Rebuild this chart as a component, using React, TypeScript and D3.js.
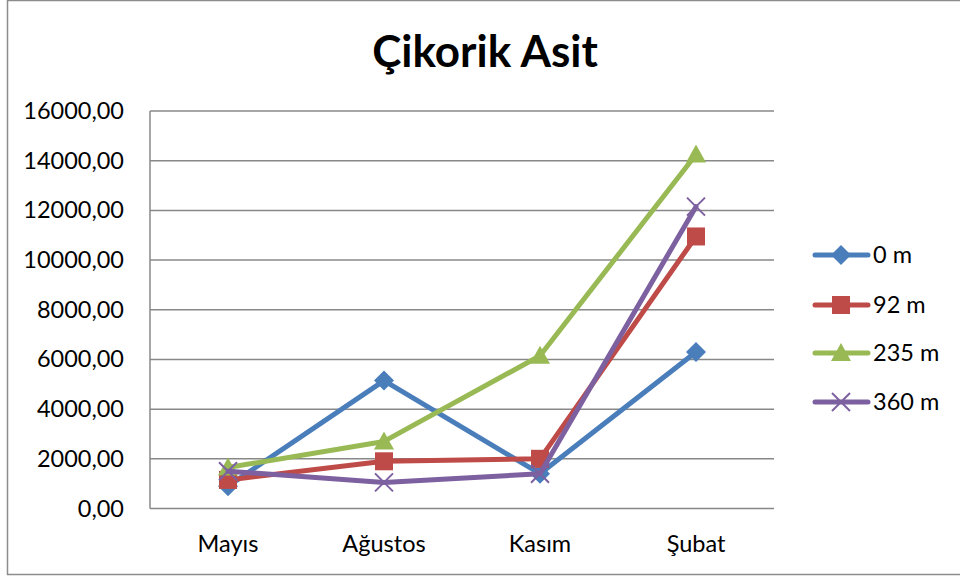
import React from "react";
import * as d3 from "d3";

const categories = ["Mayıs", "Ağustos", "Kasım", "Şubat"];
const seriesNames = ["0 m", "92 m", "235 m", "360 m"];
const s0 = [900, 5150, 1400, 6300];
const s92 = [1150, 1900, 2000, 10950];
const s235 = [1650, 2700, 6150, 14250];
const s360 = [1500, 1050, 1400, 12150];
const yTicks = [0, 2000, 4000, 6000, 8000, 10000, 12000, 14000, 16000];
const colors = ["#4a7ebb", "#be4b48", "#98b954", "#7d60a0"];
const symbols = ["diamond", "square", "triangle", "x"];
const title = "Çikorik Asit";

const W = 960, H = 579;
const plot = { left: 150, right: 774, top: 111, bottom: 508.5 };
const FONT = "Lato, 'Liberation Sans', sans-serif";

function Marker({ kind, x, y, color }: { kind: string; x: number; y: number; color: string }) {
  if (kind === "diamond") {
    const r = 10;
    return <path d={`M${x},${y - r}L${x + r},${y}L${x},${y + r}L${x - r},${y}Z`} fill={color} />;
  }
  if (kind === "square") {
    const r = 9;
    return <rect x={x - r} y={y - r} width={2 * r} height={2 * r} fill={color} />;
  }
  if (kind === "triangle") {
    const r = 10;
    return <path d={`M${x},${y - r}L${x + r},${y + r * 0.8}L${x - r},${y + r * 0.8}Z`} fill={color} />;
  }
  const r = 9;
  return (
    <path d={`M${x - r},${y - r}L${x + r},${y + r}M${x - r},${y + r}L${x + r},${y - r}`} stroke={color} strokeWidth={2} fill="none" />
  );
}

export default function App() {
  const data = [s0, s92, s235, s360];
  const x = d3.scaleBand<string>().domain(categories).range([plot.left, plot.right]);
  const y = d3.scaleLinear().domain([0, 16000]).range([plot.bottom, plot.top]);
  const cx = (c: string) => (x(c) as number) + x.bandwidth() / 2;
  const line = d3
    .line<number>()
    .x((_, i) => cx(categories[i]))
    .y((d) => y(d));
  const fmt = (v: number) => v.toFixed(2).replace(".", ",");
  const legendY = [255, 305, 353, 402];

  return (
    <svg width={W} height={H} style={{ position: "absolute", left: 0, top: 0, background: "#fff" }} fontFamily={FONT}>
      <rect x={0} y={0} width={W} height={H} fill="#fff" />
      <rect x={7.5} y={0.5} width={W + 10} height={574} fill="none" stroke="#8c8c8c" strokeWidth={1.5} />
      <text x={485} y={67} textAnchor="middle" fontSize={44} fontWeight="bold" fill="#000">
        {title}
      </text>
      {yTicks.map((t) => (
        <g key={t}>
          <line x1={plot.left} x2={plot.right} y1={y(t)} y2={y(t)} stroke="#888" strokeWidth={1.5} />
          <text x={124} y={y(t) + 8} textAnchor="end" fontSize={23.5} fill="#000">
            {fmt(t)}
          </text>
        </g>
      ))}
      <line x1={plot.left} x2={plot.left} y1={plot.top} y2={plot.bottom} stroke="#888" strokeWidth={1.5} />
      {categories.map((c) => (
        <text key={c} x={cx(c)} y={552} textAnchor="middle" fontSize={23.5} fill="#000">
          {c}
        </text>
      ))}
      {data.map((s, si) => (
        <g key={si}>
          <path d={line(s) || ""} fill="none" stroke={colors[si]} strokeWidth={5} strokeLinejoin="round" strokeLinecap="round" />
          {s.map((v, i) => (
            <Marker key={i} kind={symbols[si]} x={cx(categories[i])} y={y(v)} color={colors[si]} />
          ))}
        </g>
      ))}
      {seriesNames.map((n, si) => (
        <g key={n}>
          <line x1={815} x2={868} y1={legendY[si]} y2={legendY[si]} stroke={colors[si]} strokeWidth={5} strokeLinecap="round" />
          <Marker kind={symbols[si]} x={841} y={legendY[si]} color={colors[si]} />
          <text x={873} y={legendY[si] + 8} fontSize={23.5} fill="#000">
            {n}
          </text>
        </g>
      ))}
    </svg>
  );
}
